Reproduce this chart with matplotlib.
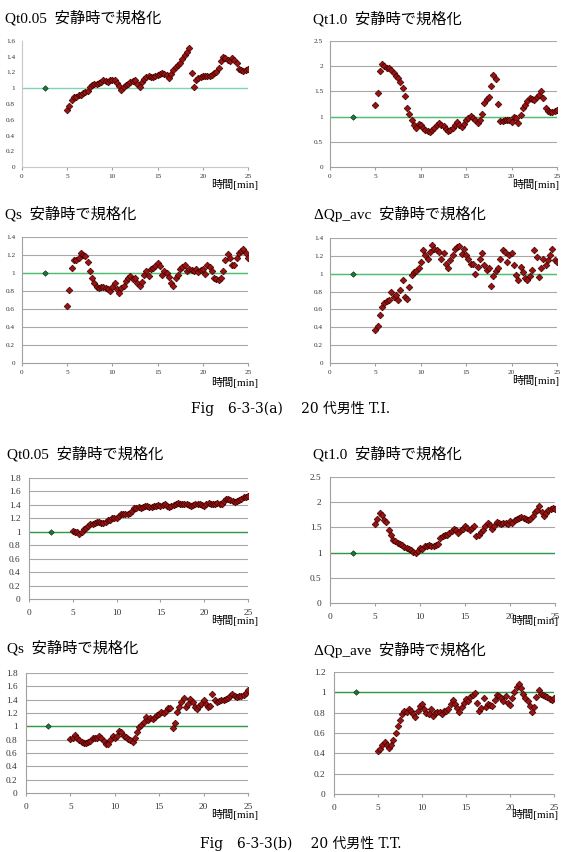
import numpy as np
import matplotlib
matplotlib.use('Agg')
import matplotlib.pyplot as plt

plt.rcParams['font.family'] = ['Liberation Serif', 'Noto Sans CJK JP']

W, H = 569, 852

# time axis [min]: one sample every 15 s from 5 to 25 min
t = np.arange(5.0, 25.01, 0.25)
# resting value (normalisation point)
rest_t = [2.5]
rest_v = [1.0]

# (a) 20代男性 T.I.
qt005_a = [0.72, 0.78, 0.85, 0.89, 0.89, 0.91, 0.92, 0.94, 0.95,
           0.97, 1.01, 1.04, 1.06, 1.06, 1.07, 1.08, 1.10, 1.09,
           1.08, 1.10, 1.11, 1.10, 1.07, 1.03, 0.98, 1.01, 1.04,
           1.06, 1.08, 1.09, 1.10, 1.05, 1.01, 1.08, 1.12, 1.14,
           1.15, 1.14, 1.14, 1.15, 1.17, 1.18, 1.19, 1.18, 1.17,
           1.13, 1.18, 1.23, 1.27, 1.29, 1.32, 1.37, 1.42, 1.46,
           1.51, 1.20, 1.02, 1.10, 1.13, 1.14, 1.15, 1.15, 1.15,
           1.16, 1.17, 1.19, 1.21, 1.26, 1.34, 1.40, 1.38, 1.36,
           1.35, 1.39, 1.36, 1.32, 1.24, 1.23, 1.22, 1.23, 1.24]
qt10_a = [1.24, 1.46, 1.90, 2.04, 2.00, 1.97, 1.96, 1.92, 1.86,
          1.81, 1.76, 1.68, 1.56, 1.40, 1.18, 1.05, 0.93, 0.83,
          0.78, 0.86, 0.83, 0.78, 0.73, 0.71, 0.70, 0.74, 0.78,
          0.84, 0.88, 0.84, 0.81, 0.76, 0.71, 0.74, 0.78, 0.84,
          0.90, 0.84, 0.79, 0.86, 0.93, 0.97, 1.01, 0.97, 0.93,
          0.88, 0.93, 1.05, 1.26, 1.35, 1.39, 1.60, 1.82, 1.75,
          1.25, 0.92, 0.91, 0.93, 0.94, 0.93, 0.90, 0.99, 0.98,
          0.88, 1.03, 1.18, 1.23, 1.30, 1.36, 1.34, 1.33, 1.38,
          1.43, 1.50, 1.36, 1.18, 1.11, 1.09, 1.09, 1.11, 1.13]
qs_a = [0.63, 0.81, 1.06, 1.14, 1.14, 1.17, 1.22, 1.20, 1.19,
        1.12, 1.02, 0.94, 0.89, 0.84, 0.83, 0.84, 0.84, 0.83,
        0.82, 0.80, 0.84, 0.89, 0.82, 0.78, 0.83, 0.86, 0.91,
        0.94, 0.97, 0.93, 0.95, 0.89, 0.86, 0.90, 0.98, 1.02,
        0.97, 1.04, 1.06, 1.08, 1.11, 1.08, 0.98, 1.02, 1.00,
        0.96, 0.89, 0.86, 0.94, 0.98, 1.04, 1.07, 1.09, 1.02,
        1.04, 1.03, 1.02, 1.04, 1.01, 1.03, 1.04, 0.99, 1.09,
        1.07, 1.02, 0.94, 0.93, 0.92, 0.94, 1.02, 1.15, 1.21,
        1.17, 1.09, 1.09, 1.17, 1.22, 1.24, 1.27, 1.22, 1.17]
dqp_a = [0.37, 0.41, 0.54, 0.63, 0.67, 0.69, 0.71, 0.80, 0.74,
         0.76, 0.71, 0.82, 0.93, 0.74, 0.72, 0.85, 0.98, 1.02,
         1.03, 1.06, 1.13, 1.26, 1.21, 1.16, 1.24, 1.32, 1.28,
         1.27, 1.24, 1.16, 1.23, 1.11, 1.06, 1.15, 1.21, 1.28,
         1.30, 1.31, 1.22, 1.28, 1.21, 1.17, 1.11, 1.11, 1.00,
         1.08, 1.17, 1.23, 1.10, 1.04, 1.06, 0.86, 0.97, 1.03,
         1.06, 1.17, 1.26, 1.24, 1.13, 1.21, 1.23, 1.10, 0.98,
         0.93, 1.08, 1.02, 0.95, 0.93, 0.97, 1.04, 1.26, 1.19,
         0.96, 1.06, 1.17, 1.10, 1.15, 1.21, 1.28, 1.15, 1.13]

# (b) 20代男性 T.T.
qt005_b = [1.01, 1.00, 0.99, 0.97, 1.00, 1.04, 1.06, 1.09, 1.11,
           1.12, 1.13, 1.14, 1.15, 1.13, 1.13, 1.15, 1.17, 1.18,
           1.20, 1.20, 1.21, 1.23, 1.26, 1.26, 1.27, 1.27, 1.28,
           1.31, 1.36, 1.36, 1.37, 1.36, 1.37, 1.38, 1.38, 1.37,
           1.37, 1.38, 1.39, 1.40, 1.39, 1.40, 1.41, 1.39, 1.37,
           1.39, 1.40, 1.41, 1.43, 1.42, 1.42, 1.41, 1.41, 1.40,
           1.39, 1.40, 1.41, 1.41, 1.41, 1.40, 1.39, 1.41, 1.43,
           1.42, 1.42, 1.42, 1.43, 1.42, 1.42, 1.46, 1.49, 1.49,
           1.48, 1.46, 1.44, 1.46, 1.48, 1.49, 1.51, 1.52, 1.53]
qt10_b = [1.56, 1.66, 1.79, 1.74, 1.65, 1.60, 1.45, 1.34, 1.25,
          1.24, 1.20, 1.18, 1.15, 1.11, 1.09, 1.07, 1.05, 1.02,
          1.00, 1.04, 1.10, 1.08, 1.13, 1.14, 1.15, 1.14, 1.13,
          1.15, 1.18, 1.28, 1.32, 1.34, 1.35, 1.38, 1.42, 1.46,
          1.45, 1.38, 1.44, 1.46, 1.52, 1.48, 1.45, 1.48, 1.52,
          1.32, 1.35, 1.40, 1.45, 1.53, 1.58, 1.55, 1.46, 1.52,
          1.60, 1.59, 1.57, 1.59, 1.58, 1.57, 1.62, 1.58, 1.65,
          1.66, 1.68, 1.70, 1.68, 1.67, 1.65, 1.66, 1.72, 1.80,
          1.85, 1.92, 1.80, 1.73, 1.78, 1.84, 1.87, 1.88, 1.86]
qs_b = [0.81, 0.82, 0.87, 0.83, 0.80, 0.77, 0.75, 0.75, 0.76,
        0.78, 0.82, 0.83, 0.83, 0.85, 0.83, 0.78, 0.74, 0.73,
        0.80, 0.85, 0.83, 0.86, 0.93, 0.92, 0.85, 0.84, 0.81,
        0.79, 0.77, 0.82, 0.92, 0.99, 1.02, 1.06, 1.14, 1.09,
        1.13, 1.11, 1.14, 1.17, 1.19, 1.21, 1.20, 1.23, 1.27,
        1.28, 0.97, 1.05, 1.22, 1.29, 1.36, 1.42, 1.29, 1.33,
        1.41, 1.37, 1.29, 1.26, 1.30, 1.33, 1.40, 1.34, 1.29,
        1.30, 1.49, 1.39, 1.37, 1.38, 1.39, 1.40, 1.41, 1.43,
        1.45, 1.48, 1.45, 1.44, 1.45, 1.46, 1.47, 1.50, 1.54]
dqp_b = [0.42, 0.44, 0.48, 0.51, 0.48, 0.45, 0.48, 0.53, 0.60,
         0.67, 0.73, 0.79, 0.82, 0.81, 0.84, 0.82, 0.79, 0.76,
         0.82, 0.87, 0.89, 0.84, 0.80, 0.79, 0.84, 0.77, 0.80,
         0.81, 0.81, 0.79, 0.82, 0.82, 0.84, 0.89, 0.92, 0.89,
         0.85, 0.81, 0.86, 0.90, 0.93, 0.91, 0.95, 0.97, 0.99,
         0.90, 0.82, 0.85, 0.94, 0.86, 0.89, 0.88, 0.87, 0.92,
         0.97, 0.96, 0.94, 0.91, 0.96, 0.90, 0.88, 0.94, 1.00,
         1.05, 1.08, 1.04, 0.98, 0.94, 0.91, 0.87, 0.81, 0.86,
         0.95, 1.02, 0.98, 0.97, 0.96, 0.95, 0.93, 0.92, 0.94]

titles = ['Qt0.05  安静時で規格化', 'Qt1.0  安静時で規格化',
          'Qs  安静時で規格化', 'ΔQp_avc  安静時で規格化',
          'Qt0.05  安静時で規格化', 'Qt1.0  安静時で規格化',
          'Qs  安静時で規格化', 'ΔQp_ave  安静時で規格化']
series = [qt005_a, qt10_a, qs_a, dqp_a, qt005_b, qt10_b, qs_b, dqp_b]
ymaxs = [1.6, 2.5, 1.4, 1.4, 1.8, 2.5, 1.8, 1.2]
ysteps = [0.2, 0.5, 0.2, 0.2, 0.2, 0.5, 0.2, 0.2]
captions = ['Fig\u30006-3-3(a)\u3000 20 代男性 T.I.',
            'Fig\u30006-3-3(b)\u3000 20 代男性 T.T.']

# layout in pixels: axes box (left, top, right, bottom), title (x, y), x label (right, y)
boxes = [(22, 41, 248, 167), (330, 41, 557, 167),
         (22, 237, 248, 363), (330, 238, 557, 363),
         (29, 478, 248, 599), (330, 477, 555, 603),
         (26, 673, 248, 793), (334, 672, 554, 794)]
title_xy = [(5, 18), (313, 19), (5, 214), (314, 214),
            (7, 454), (313, 454), (7, 648), (314, 650)]
xlab_xy = [(258, 184), (559, 184), (258, 383), (559, 381),
           (258, 621), (558, 621), (258, 814), (558, 814)]
caption_xy = [(291, 408), (301, 843)]


def rect(l, tp, r, b):
    return [l / W, 1 - b / H, (r - l) / W, (b - tp) / H]


fig = plt.figure(figsize=(W / 100, H / 100), dpi=100)
fig.patch.set_facecolor('white')

for i, vals in enumerate(series):
    ax = fig.add_axes(rect(*boxes[i]))
    upper = i < 4
    fs = 5.2 if upper else 6.7
    ymax = ymaxs[i]
    yt = np.round(np.arange(0, ymax + 1e-9, ysteps[i]), 2)

    ax.set_xlim(0, 25)
    ax.set_ylim(0, ymax)
    ax.set_xticks([0, 5, 10, 15, 20, 25])
    ax.set_yticks(yt)
    ax.set_yticklabels(['%g' % v for v in yt])

    # gridlines (the first chart has none)
    if i != 0:
        for v in yt[1:]:
            ax.axhline(v, color='#a8a8a8', lw=0.8, zorder=1)

    line_c = '#7fd4b2' if i == 0 else ('#4cbf72' if upper else '#2f9a4a')
    ax.plot([0, 25], [1, 1], color=line_c, lw=1.0, zorder=2)
    ax.plot(t, vals, ls='none', marker='D', ms=3.4, mfc='#9a1212',
            mec='#3c0000', mew=0.5, zorder=3)
    ax.plot(rest_t, rest_v, ls='none', marker='D', ms=2.8, mfc='#1e7a3a',
            mec='#0c3a18', mew=0.5, zorder=3)

    for s in ['top', 'right']:
        ax.spines[s].set_visible(False)
    for s in ['left', 'bottom']:
        ax.spines[s].set_color('#c8c8c8' if i == 0 else '#a0a0a0')
        ax.spines[s].set_linewidth(0.8)
    ax.tick_params(axis='y', length=0, pad=5 if upper else 6,
                   labelsize=fs, labelcolor='#333333')
    ax.tick_params(axis='x', length=2, color='#a0a0a0', pad=3 if upper else 5,
                   labelsize=fs, labelcolor='#333333')

    tx, ty = title_xy[i]
    fig.text(tx / W, 1 - ty / H, titles[i], fontsize=11, ha='left', va='center')
    lx, ly = xlab_xy[i]
    fig.text(lx / W, 1 - ly / H, '時間[min]', fontsize=8, ha='right', va='center')

for cap, (cx, cy) in zip(captions, caption_xy):
    fig.text(cx / W, 1 - cy / H, cap, fontsize=10, ha='center', va='center',
             family=['DejaVu Serif', 'Noto Sans CJK JP'])

fig.savefig('out.png', dpi=100)
